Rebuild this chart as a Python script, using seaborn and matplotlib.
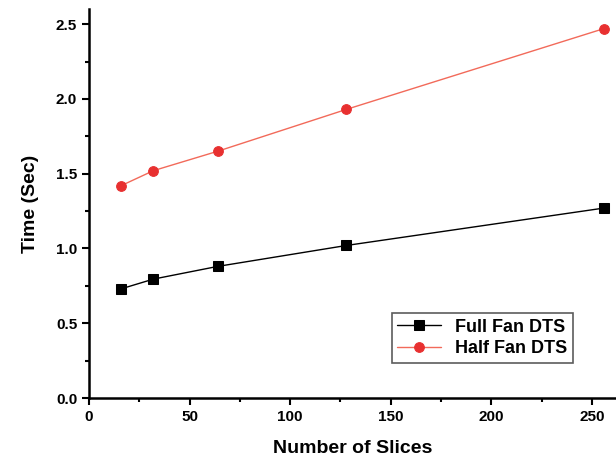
import numpy as np
import pandas as pd
import matplotlib
matplotlib.use("Agg")
import matplotlib.pyplot as plt
import seaborn as sns
from matplotlib.ticker import MultipleLocator

# datos
slices = [16, 32, 64, 128, 256]
full_fan = [0.73, 0.795, 0.88, 1.02, 1.27]
half_fan = [1.42, 1.52, 1.65, 1.93, 2.47]
series_names = ["Full Fan DTS", "Half Fan DTS"]

df = pd.DataFrame({
    "slices": slices * 2,
    "time": full_fan + half_fan,
    "serie": [series_names[0]] * len(slices) + [series_names[1]] * len(slices),
})

sns.set_style("ticks", {"axes.edgecolor": "black", "xtick.color": "black",
                        "ytick.color": "black", "text.color": "black",
                        "axes.labelcolor": "black"})
plt.rcParams['font.family'] = ['Liberation Sans', 'DejaVu Sans']

fig = plt.figure(figsize=(6.16, 4.58), dpi=100)
ax = fig.add_axes([0.1445, 0.131, 0.8555, 0.849])

sns.lineplot(data=df, x="slices", y="time", hue="serie", style="serie",
             palette={series_names[0]: "black", series_names[1]: "#f26a5a"},
             markers={series_names[0]: "s", series_names[1]: "o"},
             dashes=False, linewidth=1, markersize=7, ax=ax, clip_on=False)

# marcadores rojos mas intensos que la linea
for line in ax.get_lines():
    if matplotlib.colors.to_hex(line.get_color()) == "#f26a5a":
        line.set_markerfacecolor("#e83030")
        line.set_markeredgecolor("#e83030")
    else:
        line.set_markeredgecolor("black")

ax.set_xlim(0, 262)
ax.set_ylim(0, 2.6)
ax.xaxis.set_major_locator(MultipleLocator(50))
ax.xaxis.set_minor_locator(MultipleLocator(25))
ax.yaxis.set_major_locator(MultipleLocator(0.5))
ax.yaxis.set_minor_locator(MultipleLocator(0.25))
ax.yaxis.set_major_formatter(matplotlib.ticker.FormatStrFormatter('%.1f'))
ax.tick_params(which="major", direction="out", length=5, width=1.5, labelsize=11)
ax.tick_params(which="minor", direction="out", length=3, width=1.5)
for lbl in ax.get_xticklabels() + ax.get_yticklabels():
    lbl.set_fontweight("bold")

sns.despine(ax=ax)
for s in ["left", "bottom"]:
    ax.spines[s].set_linewidth(1.8)

ax.set_xlabel("Number of Slices", fontsize=14, fontweight="bold", labelpad=12)
ax.set_ylabel("Time (Sec)", fontsize=14, fontweight="bold", labelpad=12)

leg = ax.legend(loc="lower right", bbox_to_anchor=(0.935, 0.068),
                frameon=True, fancybox=False, edgecolor="#333333",
                handlelength=2.4, borderpad=0.3, labelspacing=0.25,
                prop={"weight": "bold", "size": 13})
leg.get_frame().set_linewidth(1.2)

plt.savefig("out.png", dpi=100)
